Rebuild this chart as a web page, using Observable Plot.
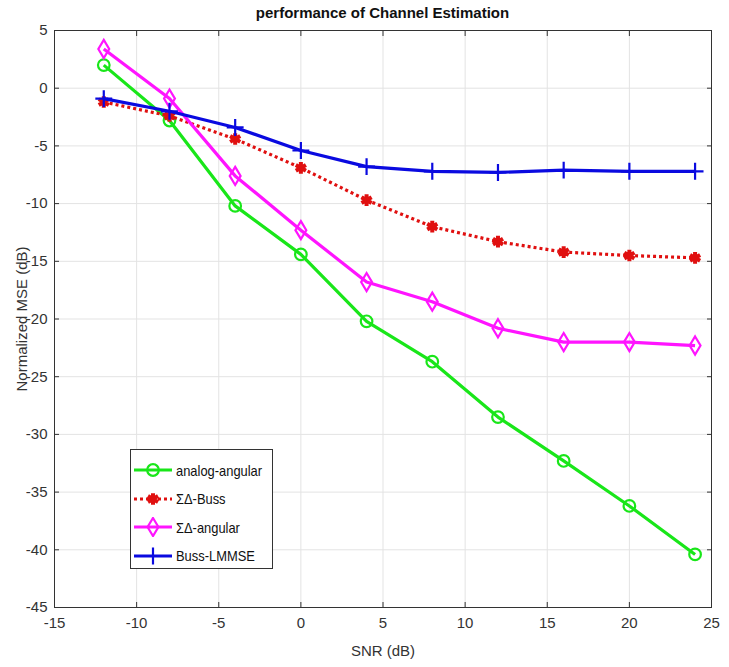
<!DOCTYPE html>
<html><head><meta charset="utf-8">
<script src="https://cdn.jsdelivr.net/npm/d3@7"></script>
<script src="https://cdn.jsdelivr.net/npm/@observablehq/plot@0.6"></script>
<style>
body{margin:0;background:#fff;}
#wrap{position:relative;width:729px;height:667px;font-family:"Liberation Sans",Arial,sans-serif;}
#title{position:absolute;left:0;width:765px;top:4px;text-align:center;font-weight:bold;font-size:15px;color:#111;}
#legend{position:absolute;left:130px;top:449px;width:143px;height:120px;border:1px solid #333;background:#fff;box-sizing:border-box;padding-top:6px;}
.row{display:flex;align-items:center;height:28.5px;font-size:15px;color:#111;white-space:nowrap;}
.row svg{margin-left:2px;margin-right:3px;flex:none;}
.row span{display:inline-block;transform:scaleX(0.86);transform-origin:left center;}
</style>
</head><body><div id="wrap"><div id="title">performance of Channel Estimation</div></div>
<script>
const snr = [-12, -8, -4, 0, 4, 8, 12, 16, 20, 24];
const analogAngular = [2.0, -2.8, -10.2, -14.4, -20.2, -23.7, -28.5, -32.3, -36.2, -40.4];
const sdBuss = [-1.2, -2.4, -4.4, -6.9, -9.7, -12.0, -13.3, -14.2, -14.5, -14.7];
const sdAngular = [3.4, -0.9, -7.6, -12.3, -16.8, -18.5, -20.8, -22.0, -22.0, -22.3];
const bussLmmse = [-0.9, -2.0, -3.4, -5.4, -6.8, -7.2, -7.3, -7.1, -7.2, -7.2];
const seriesNames = ["analog-angular", "ΣΔ-Buss", "ΣΔ-angular", "Buss-LMMSE"];
const xTicks = [-15, -10, -5, 0, 5, 10, 15, 20, 25];
const yTicks = [5, 0, -5, -10, -15, -20, -25, -30, -35, -40, -45];

const tallDiamond = {draw(ctx, size){const h = Math.sqrt(size) * 0.85, w = h * 0.6; ctx.moveTo(0,-h); ctx.lineTo(w,0); ctx.lineTo(0,h); ctx.lineTo(-w,0); ctx.closePath();}};

const styles = [
  {name: seriesNames[0], values: analogAngular, color: "#19e619", dash: null, symbol: "circle", r: 5.8, sw: 2.2},
  {name: seriesNames[1], values: sdBuss, color: "#e01010", dash: "3,3", symbol: "asterisk", r: 5.5, sw: 4},
  {name: seriesNames[2], values: sdAngular, color: "#ff14ff", dash: null, symbol: tallDiamond, r: 6, sw: 2.2},
  {name: seriesNames[3], values: bussLmmse, color: "#0a0ae0", dash: null, symbol: "plus", r: 5.5, sw: 2.2}
];

const fmt = d => String(d);
const marks = [
  Plot.gridX(xTicks, {stroke: "#e3e3e3", strokeOpacity: 1}),
  Plot.gridY(yTicks, {stroke: "#e3e3e3", strokeOpacity: 1}),
  Plot.frame({stroke: "#333", strokeWidth: 1}),
  Plot.axisX(xTicks, {anchor: "bottom", tickSize: 0, tickPadding: 10, tickFormat: fmt, fontSize: 15, color: "#333", label: "SNR (dB)", labelArrow: "none", labelAnchor: "center", labelOffset: 48}),
  Plot.axisX(xTicks, {anchor: "top", tickSize: -5, tickFormat: () => "", label: null, color: "#333"}),
  Plot.axisX(xTicks, {anchor: "bottom", tickSize: -5, tickFormat: () => "", label: null, color: "#333"}),
  Plot.axisY(yTicks, {anchor: "left", tickSize: 0, tickPadding: 7, tickFormat: fmt, fontSize: 15, color: "#333", label: "Normalized MSE (dB)", labelArrow: "none", labelAnchor: "center", labelOffset: 38}),
  Plot.axisY(yTicks, {anchor: "left", tickSize: -5, tickFormat: () => "", label: null, color: "#333"}),
  Plot.axisY(yTicks, {anchor: "right", tickSize: -5, tickFormat: () => "", label: null, color: "#333"})
];
for (const s of styles) {
  const data = snr.map((x, i) => ({x, y: s.values[i]}));
  marks.push(Plot.line(data, {x: "x", y: "y", stroke: s.color, strokeWidth: 3.2, strokeDasharray: s.dash, strokeLinecap: "butt"}));
  marks.push(Plot.dot(data, {x: "x", y: "y", stroke: s.color, strokeWidth: s.sw, symbol: s.symbol, r: s.r, fill: "none"}));
}

const chart = Plot.plot({
  width: 729, height: 667,
  marginLeft: 54, marginRight: 18, marginTop: 30, marginBottom: 60,
  style: {fontFamily: '"Liberation Sans",Arial,sans-serif', background: "#fff"},
  x: {domain: [-15, 25]},
  y: {domain: [-45, 5]},
  marks
});
const wrap = document.getElementById("wrap");
wrap.insertBefore(chart, wrap.firstChild);
chart.style.position = "absolute"; chart.style.left = "0"; chart.style.top = "0";

const leg = document.createElement("div");
leg.id = "legend";
for (const s of styles) {
  const row = document.createElement("div");
  row.className = "row";
  const sym = d3.create("svg").attr("width", 40).attr("height", 20);
  sym.append("line").attr("x1", 1).attr("x2", 39).attr("y1", 10).attr("y2", 10).attr("stroke", s.color).attr("stroke-width", 3.2).attr("stroke-dasharray", s.dash);
  const symType = typeof s.symbol === "string" ? ({circle: d3.symbolCircle, asterisk: d3.symbolAsterisk, plus: d3.symbolPlus})[s.symbol] : s.symbol;
  sym.append("path").attr("transform", "translate(20,10)").attr("d", d3.symbol(symType, Math.PI * s.r * s.r)()).attr("fill", "none").attr("stroke", s.color).attr("stroke-width", s.sw);
  row.appendChild(sym.node());
  const t = document.createElement("span");
  t.textContent = s.name;
  row.appendChild(t);
  leg.appendChild(row);
}
wrap.appendChild(leg);
</script></body></html>
